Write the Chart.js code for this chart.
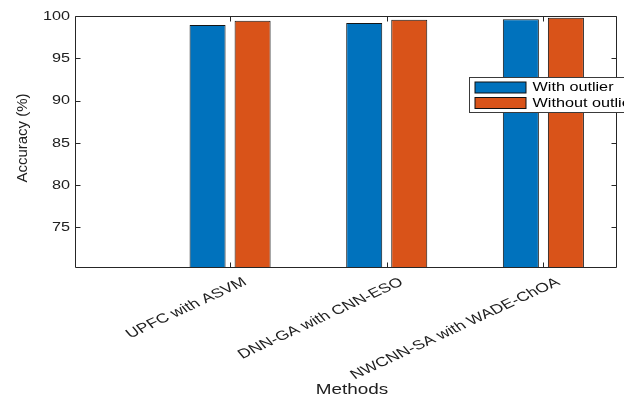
<!DOCTYPE html>
<html>
<head>
<meta charset="utf-8">
<script src="https://cdn.jsdelivr.net/npm/chart.js@4.4.1/dist/chart.umd.min.js"></script>
<style>
  html, body { margin: 0; padding: 0; background: #ffffff; }
  #wrap { width: 624px; height: 396px; position: relative; }
</style>
</head>
<body>
<div id="wrap"><canvas id="chart" width="624" height="396"></canvas></div>
<script>
// Methods compared and their positions on the x axis
const methods = ['UPFC with ASVM', 'DNN-GA with CNN-ESO', 'NWCNN-SA with WADE-ChOA'];
const methodPos = [1, 2, 3];

// Accuracy (%) per method
const withOutlier = [98.93, 99.17, 99.61];
const withoutOutlier = [99.44, 99.56, 99.80];

const seriesNames = ['With outlier', 'Without outlier'];
const seriesColors = ['#0072BD', '#D95319'];

const yTicks = [75, 80, 85, 90, 95, 100];
const yLabel = 'Accuracy (%)';
const xLabel = 'Methods';

const FONT = '"Liberation Sans", Arial, Helvetica, sans-serif';
const TEXT = '#202020';
const AXIS = '#262626';
const SX = 1.35;      // horizontal widening of the text
const TICK_LEN = 5;

function wideText(ctx, text, x, y, size, align, baseline, rot) {
  ctx.save();
  ctx.translate(x, y);
  ctx.scale(SX, 1);
  if (rot) ctx.rotate(rot);
  ctx.font = size + 'px ' + FONT;
  ctx.textAlign = align;
  ctx.textBaseline = baseline;
  ctx.fillText(text, 0, 0);
  ctx.restore();
}

// Box axes with inward ticks, labels and an inset legend
const boxAxes = {
  id: 'boxAxes',
  afterDatasetsDraw(chart) {
    const { ctx, chartArea: a, scales } = chart;
    const xs = scales.x, ys = scales.y;
    const L = Math.round(a.left) + 0.5, R = Math.round(a.right) - 0.5;
    const T = Math.round(a.top) + 0.5, B = Math.round(a.bottom) - 0.5;

    ctx.save();
    ctx.strokeStyle = AXIS;
    ctx.lineWidth = 1;
    ctx.beginPath();
    ctx.rect(L, T, R - L, B - T);
    // x ticks (bottom and top)
    xs.ticks.forEach(t => {
      const px = Math.round(xs.getPixelForValue(t.value)) + 0.5;
      ctx.moveTo(px, B); ctx.lineTo(px, B - TICK_LEN);
      ctx.moveTo(px, T); ctx.lineTo(px, T + TICK_LEN);
    });
    // y ticks (left and right)
    ys.ticks.forEach(t => {
      const py = Math.round(ys.getPixelForValue(t.value)) + 0.5;
      ctx.moveTo(L, py); ctx.lineTo(L + TICK_LEN, py);
      ctx.moveTo(R, py); ctx.lineTo(R - TICK_LEN, py);
    });
    ctx.stroke();

    ctx.fillStyle = TEXT;
    // y tick labels
    ys.ticks.forEach(t => {
      const py = ys.getPixelForValue(t.value);
      wideText(ctx, String(t.value), a.left - 5, py + 0.5, 12, 'right', 'middle', 0);
    });
    // x tick labels, rotated
    xs.ticks.forEach((t, i) => {
      const px = xs.getPixelForValue(t.value);
      wideText(ctx, methods[i], px + 15, a.bottom + 13, 13, 'right', 'middle', -32 * Math.PI / 180);
    });
    // axis titles
    wideText(ctx, xLabel, (a.left + a.right) / 2 + 6, 394, 14, 'center', 'alphabetic', 0);
    ctx.save();
    ctx.translate(23, (a.top + a.bottom) / 2 - 4);
    ctx.rotate(-Math.PI / 2);
    ctx.font = '15px ' + FONT;
    ctx.textAlign = 'center';
    ctx.textBaseline = 'middle';
    ctx.fillText(yLabel, 0, 0);
    ctx.restore();

    // legend
    const lx = 469.5, ly = 77.5, lh = 35;
    ctx.fillStyle = '#ffffff';
    ctx.fillRect(lx, ly, 200, lh);
    ctx.strokeStyle = '#3a3a3a';
    ctx.strokeRect(lx, ly, 200, lh);
    chart.data.datasets.forEach((ds, i) => {
      const sy = ly + 4.5 + i * 15.5;
      ctx.fillStyle = ds.backgroundColor;
      ctx.fillRect(lx + 5.5, sy, 51, 11);
      ctx.strokeStyle = '#111111';
      ctx.strokeRect(lx + 5.5, sy, 51, 11);
      ctx.fillStyle = '#000000';
      wideText(ctx, ds.label, lx + 63, sy + 6, 12, 'left', 'middle', 0);
    });
    ctx.restore();
  }
};

const datasets = [withOutlier, withoutOutlier].map((vals, i) => ({
  label: seriesNames[i],
  data: methodPos.map((x, j) => ({ x: x, y: vals[j] })),
  backgroundColor: seriesColors[i],
  borderColor: '#151515',
  borderWidth: 1,
  borderSkipped: 'start',
  categoryPercentage: 0.575,
  barPercentage: 0.8
}));

new Chart(document.getElementById('chart'), {
  type: 'bar',
  data: { datasets: datasets },
  options: {
    responsive: false,
    animation: false,
    devicePixelRatio: 1,
    layout: { padding: { top: 16, right: 7, left: 0, bottom: 0 } },
    plugins: { legend: { display: false }, tooltip: { enabled: false } },
    scales: {
      x: {
        type: 'linear',
        min: 0.01,
        max: 3.47,
        offset: false,
        grid: { display: false },
        border: { display: false },
        ticks: { display: false },
        afterBuildTicks: s => { s.ticks = methodPos.map(v => ({ value: v })); },
        afterFit: s => { s.height = 128; }
      },
      y: {
        min: 70.2,
        max: 100,
        grid: { display: false },
        border: { display: false },
        ticks: { display: false },
        afterBuildTicks: s => { s.ticks = yTicks.map(v => ({ value: v })); },
        afterFit: s => { s.width = 75; }
      }
    }
  },
  plugins: [boxAxes]
});
</script>
</body>
</html>
